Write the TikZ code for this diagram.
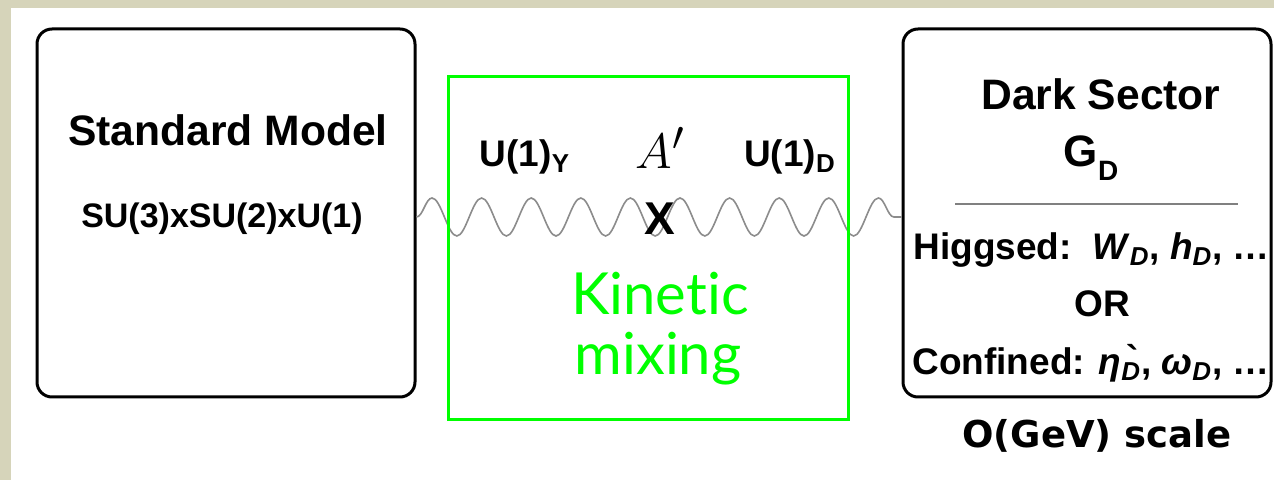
\documentclass[tikz,border=0pt]{standalone}
\usepackage{fontspec}
\setmainfont{Liberation Sans}
\newfontfamily\gillfont[Ligatures=NoCommon]{Lato}
\newfontfamily\verdfont{DejaVu Sans}
\usetikzlibrary{positioning, decorations.pathmorphing}

\definecolor{paper}{RGB}{214,212,186}
\definecolor{mixgreen}{RGB}{0,255,0}

\begin{document}
\begin{tikzpicture}[x=0.5pt, y=-0.5pt]
        \tikzstyle{sector} = [rectangle, rounded corners=7.5pt, minimum width=189pt, minimum height=184pt, draw=black, line width=1.5pt]
        \tikzstyle{mixbox} = [rectangle, minimum width=200pt, minimum height=171.5pt, draw=mixgreen, line width=1.5pt]
        \tikzstyle{bigtext} = [inner sep=0pt, anchor=base, font=\bfseries\fontsize{21.3}{24}\selectfont]
        \tikzstyle{midtext} = [inner sep=0pt, anchor=base, font=\bfseries\fontsize{18.5}{21}\selectfont]
        \tikzstyle{smalltext} = [inner sep=0pt, anchor=base, font=\bfseries\fontsize{17}{20}\selectfont]
        \tikzstyle{mixtext} = [inner sep=0pt, anchor=base, text=mixgreen, font=\gillfont\fontsize{29}{30}\selectfont]
        \tikzstyle{photon} = [draw=gray!90, line width=0.8pt, decorate, decoration={snake, segment length=24.8pt, amplitude=9.5pt}]

        % page
        \useasboundingbox (0,0) rectangle (1274,480);
        \fill[paper] (0,0) rectangle (1274,480);
        \fill[white] (11,8) rectangle (1274,480);

        % sectors
        \node (sm) [sector] at (226,213) {};
        \node (dark) [sector, minimum width=184pt] at (1087,213) {};

        \draw [photon] ([yshift=-2pt]sm.east) -- ([yshift=-2pt]dark.west);

        \node (mix) [mixbox] at (648,248.5) {};

        % standard model
        \node (smname) [bigtext] at (228,146) {Standard Model};
        \node (smgroup) [smalltext] at (222,228) {SU(3)xSU(2)xU(1)};

        % mixing
        \node (uy) [midtext] at (525,167) {U(1)\textsubscript{Y}};
        \node (aprime) [inner sep=0pt, anchor=base, font=\fontsize{30}{32}\selectfont] at (660,169) {$A'$};
        \node (ud) [midtext] at (790,167) {U(1)\textsubscript{D}};
        \node (cross) [inner sep=0pt, anchor=base, font=\bfseries\fontsize{23}{26}\selectfont] at (660,235) {X};
        \node (kin) [mixtext] at (660,315) {Kinetic};
        \node (mixing) [mixtext] at (658,375) {mixing};

        % dark sector
        \node (dsname) [bigtext] at (1101,110) {Dark Sector};
        \node (gd) [inner sep=0pt, anchor=base, font=\bfseries\fontsize{22}{24}\selectfont] at (1091,167) {G\raisebox{-7pt}{\fontsize{14}{14}\selectfont D}};
        \draw [gray, line width=1pt] (955,204) -- (1238,204);
        \node (higgs) [midtext, anchor=base west] at (913,260) {Higgsed:\ \ \textit{W}\textsubscript{\textit{D}}, \textit{h}\textsubscript{\textit{D}}, …};
        \node (or) [midtext] at (1102,317) {OR};
        \node (conf) [midtext, anchor=base west] at (912,375) {Confined: \textit{η}\textsubscript{\textit{D}}\llap{\raisebox{1.5pt}{\textasciigrave}\hspace{1pt}}, \textit{ω\textsubscript{D}}, …};
        \node (scale) [inner sep=0pt, anchor=base, font=\verdfont\bfseries\fontsize{18.5}{21}\selectfont] at (1097,448) {O(GeV) scale};
\end{tikzpicture}
\end{document}
